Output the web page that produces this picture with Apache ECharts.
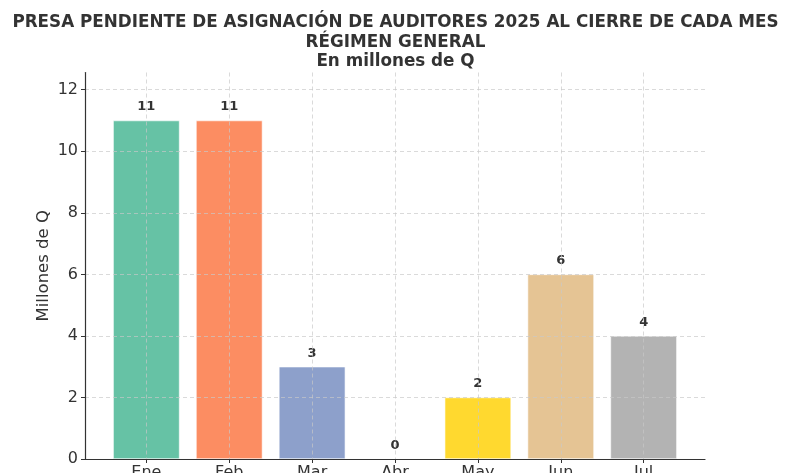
<!DOCTYPE html>
<html>
<head>
<meta charset="utf-8">
<script src="https://cdn.jsdelivr.net/npm/echarts@6/dist/echarts.min.js"></script>
<style>html,body{margin:0;padding:0;background:#fff;}#c{width:791px;height:473px;}</style>
</head>
<body>
<div id="c"></div>
<script>
const categories = ['Ene', 'Feb', 'Mar', 'Abr', 'May', 'Jun', 'Jul'];
const values = [11, 11, 3, 0, 2, 6, 4];
const colors = ['#66c2a5', '#fc8d62', '#8da0cb', '#e78ac3', '#ffd92f', '#e5c494', '#b3b3b3'];
const yTicks = [0, 2, 4, 6, 8, 10, 12];
const titleLines = ['PRESA PENDIENTE DE ASIGNACIÓN DE AUDITORES 2025 AL CIERRE DE CADA MES', 'RÉGIMEN GENERAL', 'En millones de Q'];

const chart = echarts.init(document.getElementById('c'), null, {renderer: 'canvas'});
const idx = categories.map((c, i) => i);
const gridStyle = {show: true, lineStyle: {color: '#c8c8c8', type: [4, 3], width: 0.8, opacity: 0.85}};
chart.setOption({
  animation: false,
  title: {
    text: titleLines.join('\n'),
    left: 'center', top: 8,
    textStyle: {fontFamily: 'DejaVu Sans', fontWeight: 'bold', fontSize: 16.8, color: '#333', lineHeight: 19.5}
  },
  grid: {left: 85, right: 86, top: 72.5, bottom: 14, outerBoundsMode: 'none', containLabel: false},
  xAxis: {
    type: 'value', min: -0.74, max: 6.74, z: 5,
    axisLine: {show: true, onZero: false, lineStyle: {color: '#333', width: 1.2}},
    axisTick: {show: true, customValues: idx, length: 4, lineStyle: {color: '#333'}},
    axisLabel: {customValues: idx, formatter: v => categories[Math.round(v)], fontFamily: 'DejaVu Sans', fontSize: 16, color: '#333', margin: 6},
    splitLine: gridStyle
  },
  yAxis: {
    type: 'value', min: 0, max: 12.56,
    name: 'Millones de Q', nameLocation: 'middle', nameGap: 33, nameMoveOverlap: false,
    nameTextStyle: {fontFamily: 'DejaVu Sans', fontSize: 16.5, color: '#333'},
    z: 5,
    axisLine: {show: true, onZero: false, lineStyle: {color: '#333', width: 1.2}},
    axisTick: {show: true, customValues: yTicks, length: 4, lineStyle: {color: '#333'}},
    axisLabel: {customValues: yTicks, fontFamily: 'DejaVu Sans', fontSize: 16, color: '#333', margin: 7},
    splitLine: gridStyle
  },
  series: [{
    type: 'bar',
    barWidth: 66.5,
    data: values.map((v, i) => ({value: [i, v], itemStyle: {color: colors[i]}})),
    itemStyle: {borderColor: '#ffffff', borderWidth: 0.6},
    label: {
      show: true, position: 'top', distance: 7,
      formatter: p => p.value[1],
      fontFamily: 'DejaVu Sans', fontWeight: 'bold', fontSize: 13, color: '#333'
    }
  }]
});
</script>
</body>
</html>
